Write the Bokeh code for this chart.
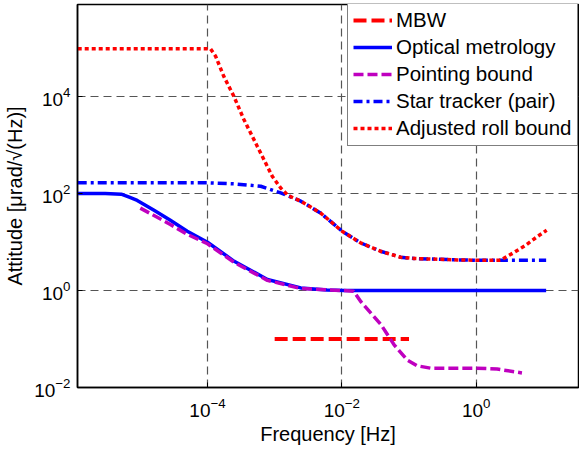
from bokeh.plotting import figure
from bokeh.models import FixedTicker, Range1d
from bokeh.embed import file_html
from bokeh.resources import INLINE

# ---- data ----
x_ticks = [1e-4, 1e-2, 1e0]
y_ticks = [1e-2, 1e0, 1e2, 1e4]

mbw_f = [1e-3, 1e-1]
mbw_v = [0.1, 0.1]

om_f = [1.17e-6, 3e-6, 5.2e-6, 7e-6, 9e-6, 1.6e-5, 2.8e-5, 5e-5, 1e-4, 2.5e-4, 7.8e-4, 2.45e-3, 6e-3, 1.1e-2, 11]
om_v = [100, 99.5, 97, 83, 72, 45, 28, 16.7, 9.9, 4.0, 1.69, 1.13, 1.02, 1.0, 1.0]

pb_f = [1e-5, 2.8e-5, 5e-5, 1e-4, 2.5e-4, 7.8e-4, 2.45e-3, 1e-2, 1.5e-2, 1.9e-2, 3.8e-2, 6e-2, 9.4e-2, 0.133, 0.21, 1.0, 2.05, 4.8]
pb_v = [50, 23, 14.4, 9.2, 3.8, 1.62, 1.1, 1.0, 0.97, 0.6, 0.2, 0.076, 0.037, 0.028, 0.025, 0.025, 0.024, 0.02]

st_f = [1.17e-6, 1e-4, 2.5e-4, 6.2e-4, 1.23e-3, 2.45e-3, 4.8e-3, 1.01e-2, 1.9e-2, 3.76e-2, 7.46e-2, 0.118, 0.52, 1.0, 11]
st_v = [166, 166, 158, 141, 103, 69.6, 39.8, 16.7, 9.6, 6.45, 4.86, 4.57, 4.28, 4.2, 4.2]

rb_f = [1.17e-6, 1.11e-4, 1.32e-4, 1.75e-4, 2.47e-4, 3.48e-4, 5.5e-4, 9.2e-4, 1.23e-3, 1.6e-3, 2.45e-3,
        4.8e-3, 1.01e-2, 1.9e-2, 3.76e-2, 7.46e-2, 0.118, 0.52, 1.0, 2.3, 3.6, 5.4, 8.0, 11.2]
rb_v = [9.6e4, 9.6e4, 6.8e4, 2.6e4, 1.01e4, 3.36e3, 945, 227, 130, 90, 69.6,
        39.8, 16.7, 9.6, 6.45, 4.86, 4.57, 4.28, 4.2, 4.2, 6.0, 8.5, 12.7, 17.5]

FONT = "Liberation Sans"

p = figure(width=579, height=453, x_axis_type="log", y_axis_type="log",
           x_range=Range1d(10 ** -5.935, 10 ** 1.523),
           y_range=Range1d(1e-2, 10 ** 5.897),
           output_backend="svg", toolbar_location=None,
           min_border_left=77, min_border_right=1, min_border_top=4, min_border_bottom=66)

p.background_fill_color = "white"
p.border_fill_color = "white"
p.outline_line_color = "black"
p.outline_line_width = 1.5

for ax, ticks in ((p.xaxis, x_ticks), (p.yaxis, y_ticks)):
    ax.ticker = FixedTicker(ticks=ticks)
    ax.major_label_text_font = FONT
    ax.major_label_text_font_size = "19px"
    ax.major_label_text_color = "black"
    ax.axis_label_text_font = FONT
    ax.axis_label_text_font_size = "20px"
    ax.axis_label_text_font_style = "normal"
    ax.axis_label_text_color = "black"
    ax.axis_line_color = "black"
    ax.axis_line_width = 1.5
    ax.major_tick_in = 5
    ax.major_tick_out = 0
    ax.minor_tick_line_color = None
    ax.major_tick_line_color = "black"

p.xaxis.axis_label = "Frequency [Hz]"
p.yaxis.axis_label = "Attitude [μrad/√(Hz)]"
p.xaxis.major_label_standoff = 10
p.yaxis.major_label_standoff = 7
p.xaxis.axis_label_standoff = 3
p.yaxis.axis_label_standoff = 5

for g in (p.xgrid, p.ygrid):
    g.grid_line_color = "#555555"
    g.grid_line_width = 1.2
    g.grid_line_dash = "8 5"

p.line(mbw_f, mbw_v, color="#FF0000", line_width=4, line_dash="13 5", legend_label="MBW")
p.line(om_f, om_v, color="#0000FF", line_width=3.5, legend_label="Optical metrology")
p.line(pb_f, pb_v, color="#BF00BF", line_width=3.5, line_dash="10 4", legend_label="Pointing bound")
p.line(st_f, st_v, color="#0000FF", line_width=3.5, line_dash="9 4 3 4", legend_label="Star tracker (pair)")
p.line(rb_f, rb_v, color="#FF0000", line_width=3.5, line_dash="4 3", legend_label="Adjusted roll bound")

lg = p.legend[0]
lg.location = (270, 241)
lg.label_text_font = FONT
lg.label_text_font_size = "20.5px"
lg.label_text_color = "black"
lg.border_line_color = "black"
lg.border_line_width = 1
lg.background_fill_color = "white"
lg.background_fill_alpha = 1
lg.glyph_width = 39
lg.glyph_height = 20
lg.label_height = 20
lg.spacing = 3
lg.padding = 5
lg.margin = 0
lg.label_standoff = 4

open("out.html", "w").write(file_html(p, INLINE))
